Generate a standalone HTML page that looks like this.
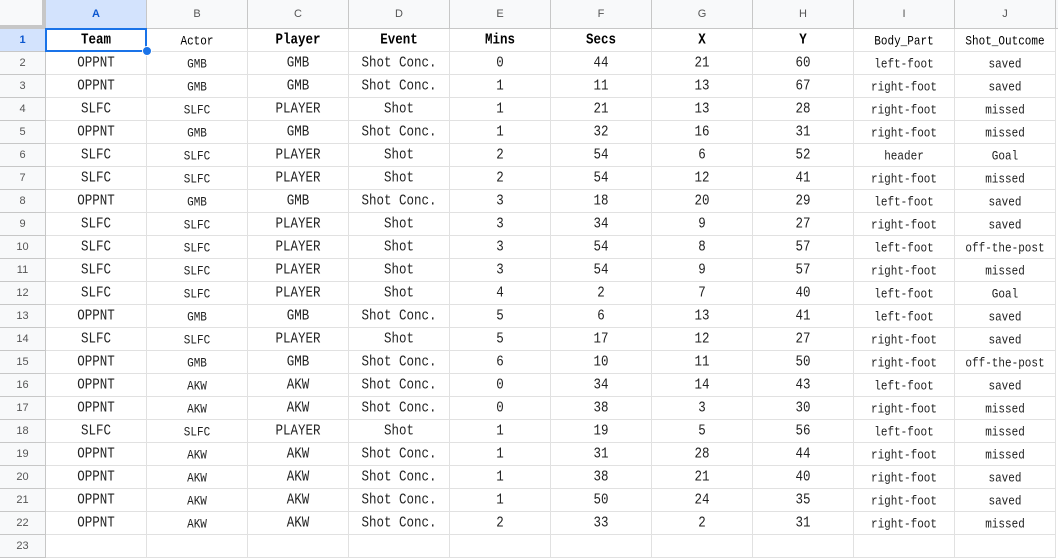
<!DOCTYPE html>
<html><head><meta charset="utf-8"><style>
body{margin:0;width:1058px;height:542px;overflow:hidden;background:#fff;font-family:"Liberation Mono","DejaVu Sans Mono",monospace;}
.c{position:absolute;box-sizing:border-box;border-right:1px solid #e1e1e1;border-bottom:1px solid #e1e1e1;display:flex;align-items:center;justify-content:center;color:#222;font-size:12.5px;white-space:nowrap;overflow:hidden}
.c span{display:inline-block;transform:scaleY(1.2)}
.h{background:#f8f9fa;color:#555;font-family:"Liberation Sans",sans-serif;font-size:11px;border-color:#c7c7c7}
.h span{transform:none}
.sm{font-size:11px;padding-top:3px}
</style></head><body>
<div id="grid"></div>
<script>
const cols=["A","B","C","D","E","F","G","H","I","J"];
const headers=["Team","Actor","Player","Event","Mins","Secs","X","Y","Body_Part","Shot_Outcome"];
const team=["OPPNT","OPPNT","SLFC","OPPNT","SLFC","SLFC","OPPNT","SLFC","SLFC","SLFC","SLFC","OPPNT","SLFC","OPPNT","OPPNT","OPPNT","SLFC","OPPNT","OPPNT","OPPNT","OPPNT"];
const actor=["GMB","GMB","SLFC","GMB","SLFC","SLFC","GMB","SLFC","SLFC","SLFC","SLFC","GMB","SLFC","GMB","AKW","AKW","SLFC","AKW","AKW","AKW","AKW"];
const player=["GMB","GMB","PLAYER","GMB","PLAYER","PLAYER","GMB","PLAYER","PLAYER","PLAYER","PLAYER","GMB","PLAYER","GMB","AKW","AKW","PLAYER","AKW","AKW","AKW","AKW"];
const mins=[0,1,1,1,2,2,3,3,3,3,4,5,5,6,0,0,1,1,1,1,2];
const secs=[44,11,21,32,54,54,18,34,54,54,2,6,17,10,34,38,19,31,38,50,33];
const xs=[21,13,13,16,6,12,20,9,8,9,7,13,12,11,14,3,5,28,21,24,2];
const ys=[60,67,28,31,52,41,29,27,57,57,40,41,27,50,43,30,56,44,40,35,31];
const body=["left-foot","right-foot","right-foot","right-foot","header","right-foot","left-foot","right-foot","left-foot","right-foot","left-foot","left-foot","right-foot","right-foot","left-foot","right-foot","left-foot","right-foot","right-foot","right-foot","right-foot"];
const outcome=["saved","saved","missed","missed","Goal","missed","saved","saved","off-the-post","missed","Goal","saved","saved","off-the-post","saved","missed","missed","missed","saved","saved","missed"];
const g=document.getElementById('grid');
const CW=101,X0=46,RH=23,Y0=29;
function cell(x,y,w,h,txt,cls,name,inter){const d=document.createElement('div');d.className='c '+(cls||'');d.style.left=x+'px';d.style.top=y+'px';d.style.width=w+'px';d.style.height=h+'px';
const s=document.createElement('span');s.textContent=txt;d.appendChild(s);


g.appendChild(d);return d;}
const corner=cell(0,0,X0,Y0,'','h','corner','true');corner.style.borderRight='4px solid #c7c7c7';corner.style.borderBottom='4px solid #c7c7c7';
cols.forEach((c,i)=>{const d=cell(X0+i*CW,0,CW,Y0,c,'h','column-header-'+c.toLowerCase(),'true');if(i==0){d.style.background='#d3e3fd';d.style.color='#0b57d0';d.style.fontWeight='bold';}});
cell(X0+10*CW,0,20,Y0,'','h','column-header-k','true');
for(let r=1;r<=23;r++){const d=cell(0,Y0+(r-1)*RH,X0,RH,String(r),'h','row-header-'+r,'true');if(r==1){d.style.background='#d3e3fd';d.style.color='#0b57d0';d.style.fontWeight='bold';}}
headers.forEach((t,i)=>{const sm=(i==1||i>=8);const d=cell(X0+i*CW,Y0,CW,RH,t,sm?'sm':'','header-'+t.toLowerCase().replace('_','-'),'true');d.style.color='#000';if(!sm)d.style.fontWeight='bold';});
const data=[team,actor,player,null,mins,secs,xs,ys,body,outcome];
for(let r=0;r<team.length;r++){
  for(let i=0;i<10;i++){
    let v=i==3?(team[r]=="SLFC"?"Shot":"Shot Conc."):data[i][r];
    cell(X0+i*CW,Y0+(r+1)*RH,CW,RH,String(v),(i==1||i>=8)?'sm':'','cell-'+cols[i].toLowerCase()+(r+2),'true');
  }
}
for(let i=0;i<10;i++)cell(X0+i*CW,Y0+22*RH,CW,RH,'','','cell-'+cols[i].toLowerCase()+'23','true');
const sel=document.createElement('div');


sel.style.cssText='position:absolute;left:45px;top:28px;width:98px;height:20px;border:2px solid #1a73e8;';
g.appendChild(sel);
const hd=document.createElement('div');


hd.style.cssText='position:absolute;left:142px;top:46px;width:8px;height:8px;border-radius:50%;background:#1a73e8;border:1px solid #fff;';
g.appendChild(hd);
</script>
</body></html>
